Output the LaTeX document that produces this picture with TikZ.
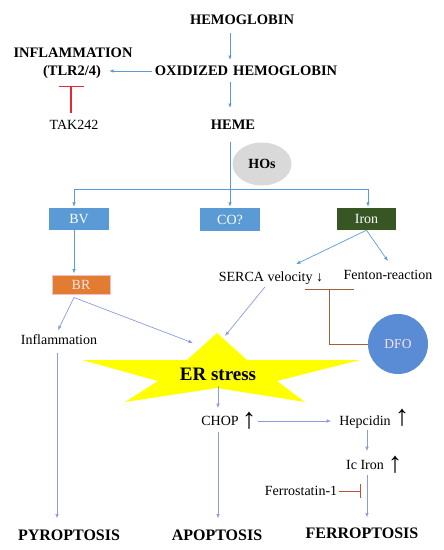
\documentclass[tikz,border=0pt]{standalone}
\usepackage{fontspec}
\setmainfont{Liberation Serif}
\usetikzlibrary{arrows.meta,shapes.geometric}
\definecolor{blueA}{RGB}{91,155,213}
\definecolor{lav}{RGB}{140,155,225}
\definecolor{boxblue}{RGB}{91,155,213}
\definecolor{irongreen}{RGB}{55,86,35}
\definecolor{brorange}{RGB}{226,124,48}
\definecolor{brpink}{RGB}{245,190,205}
\definecolor{brtext}{RGB}{252,228,236}
\definecolor{hosgray}{RGB}{217,217,217}
\definecolor{dfoblue}{RGB}{90,140,214}
\definecolor{takred}{RGB}{230,40,50}
\definecolor{dfobrown}{RGB}{165,95,55}
\definecolor{ferrored}{RGB}{190,80,60}
\definecolor{staryellow}{RGB}{255,255,0}
\tikzset{
  txt/.style={inner sep=0pt, text depth=0pt, text height=9.3pt, font=\fontsize{14}{16}\selectfont},
  hdr/.style={inner sep=0pt, text depth=0pt, text height=9.6pt, font=\bfseries\fontsize{14.5}{17}\selectfont},
  outc/.style={inner sep=0pt, text depth=0pt, text height=10.6pt, font=\bfseries\fontsize{16}{19}\selectfont},
  boxnode/.style={rectangle, inner sep=0pt, text=white, text depth=0pt, text height=9.3pt, font=\fontsize{14}{16}\selectfont, minimum width=60pt, minimum height=22pt},
  uparr/.style={inner sep=0pt, font=\fontsize{29}{30}\selectfont},
  arr/.style={draw=blueA, line width=0.7pt, -{Latex[length=4.5pt,width=3.5pt]}},
  arrL/.style={draw=lav, line width=0.7pt, -{Latex[length=4.5pt,width=3.5pt]}},
  plainline/.style={draw=blueA, line width=0.7pt},
  takinh/.style={draw=takred, line width=1.2pt, -{Bar[width=25pt]}},
  dfoinh/.style={draw=dfobrown, line width=1pt, -{Bar[width=49pt]}},
  ferroinh/.style={draw=ferrored, line width=1pt, -{Bar[width=14pt]}},
}
\begin{document}
\begin{tikzpicture}[x=1pt,y=-1pt]
\useasboundingbox (0,0) rectangle (444,550);
% star
\fill[staryellow] (217,333) -- (247,360) -- (360,360) -- (277,381) -- (305,402) -- (217,388) -- (125,402) -- (158,381) -- (82,360) -- (187,360) -- cycle;
% nodes
\node[hdr] (hemo) at (242,20) {HEMOGLOBIN};
\node[hdr] (oxhb) at (246,71) {OXIDIZED\hspace{0.35em}HEMOGLOBIN};
\node[hdr] (infl) at (73,53) {INFLAMMATION};
\node[hdr] (tlr) at (72,71) {(TLR2/4)};
\node[txt] (tak) at (74,125) {TAK242};
\node[hdr] (heme) at (233,125) {HEME};
\node[ellipse, fill=hosgray, minimum width=59pt, minimum height=43pt, inner sep=0pt, font=\bfseries\fontsize{14}{16}\selectfont] (hos) at (262,164) {HOs};
\node[boxnode, fill=boxblue] (bv) at (79,219) {BV};
\node[boxnode, fill=boxblue, minimum height=23pt] (co) at (230,219.5) {CO?};
\node[boxnode, fill=irongreen, minimum width=59pt] (iron) at (366.5,219) {Iron};
\node[boxnode, fill=brorange, draw=brpink, line width=1pt, minimum width=58pt, minimum height=19pt, text=brtext] (br) at (81,284.5) {BR};
\node[txt] (serca) at (271,277) {SERCA velocity ↓};
\node[txt] (fenton) at (388,275) {Fenton-reaction};
\node[circle, fill=dfoblue, minimum size=60pt, inner sep=0pt, text=brtext, font=\fontsize{13.5}{16}\selectfont] (dfo) at (398,344) {DFO};
\node[txt] (inflam) at (59,340) {Inflammation};
\node[inner sep=0pt, text depth=0pt, text height=12.6pt, font=\bfseries\fontsize{19}{22}\selectfont] (er) at (218,374) {ER stress};
\node[txt] (chop) at (220,421) {CHOP};
\node[uparr] (chopup) at (249,421) {↑};
\node[txt] (hepc) at (365,421) {Hepcidin};
\node[uparr] (hepcup) at (402,418) {↑};
\node[txt] (iciron) at (365,465) {Ic Iron};
\node[uparr] (icup) at (395,464.5) {↑};
\node[txt] (ferro) at (301,491) {Ferrostatin-1};
\node[outc] (pyro) at (69,535) {PYROPTOSIS};
\node[outc] (apo) at (217,535) {APOPTOSIS};
\node[outc] (ferrop) at (362,533) {FERROPTOSIS};
% helper coordinates
\coordinate (split) at (230,189);
\coordinate (er1) at (193,343);
\coordinate (er2) at (225,336);
\coordinate (dfoT) at (329,289);
\path ([xshift=-5pt]bv.north) coordinate (bvtop);
\path ([xshift=1.5pt]iron.north) coordinate (irtop);
% connectors
\draw[arr, shorten <=8pt, shorten >=6pt] ([xshift=-12pt]hemo.south) -- ([xshift=-16pt]oxhb.north);
\draw[arr, shorten <=3pt, shorten >=8pt] (oxhb.west) -- (tlr.east);
\draw[takinh, shorten <=7pt, shorten >=10pt] ([xshift=-3pt]tak.north) -- ([xshift=-1pt]tlr.south);
\draw[arr, shorten <=6pt, shorten >=12pt] ([xshift=-16pt]oxhb.south) -- ([xshift=-3pt]heme.north);
\draw[arr, shorten <=12pt, shorten >=1pt] ([xshift=-3pt]heme.south) -- (co.north);
\draw[plainline] (bvtop |- split) -- (irtop |- split);
\draw[arr, shorten >=1pt] (bvtop |- split) -- (bvtop);
\draw[arr, shorten >=1pt] (irtop |- split) -- (irtop);
\draw[arr] (iron.south) -- ([shift={(25,-8)}]serca.north);
\draw[arr] (iron.south) -- ([shift={(0,-9)}]fenton.north);
\draw[arr, shorten >=1pt] ([xshift=-5pt]bv.south) -- ([xshift=-7pt]br.north);
\draw[arrL] ([shift={(-7,3)}]br.south) -- ([shift={(-1,-5)}]inflam.north);
\draw[arrL] ([shift={(-7,3)}]br.south) -- (er1);
\draw[arrL] ([shift={(-6,5)}]serca.south) -- (er2);
\draw[dfoinh] (dfo.west) -| (dfoT);
\draw[arrL] ([shift={(0,5)}]er.south) -- ([shift={(-2,-8)}]chop.north);
\draw[arrL] ([shift={(19,0)}]chop.east) -- ([shift={(-8,0)}]hepc.west);
\draw[arrL] ([shift={(2,4)}]hepc.south) -- ([shift={(2,-9)}]iciron.north);
\draw[arrL] ([shift={(2,5)}]iciron.south) -- ([shift={(5,-10)}]ferrop.north);
\draw[ferroinh] ([xshift=2pt]ferro.east) -- ([xshift=24pt]ferro.east);
\draw[arrL] ([shift={(-2,6)}]chop.south) -- ([shift={(1,-11)}]apo.north);
\draw[arrL] ([shift={(-2,8)}]inflam.south) -- ([shift={(-12,-11)}]pyro.north);
\end{tikzpicture}
\end{document}
